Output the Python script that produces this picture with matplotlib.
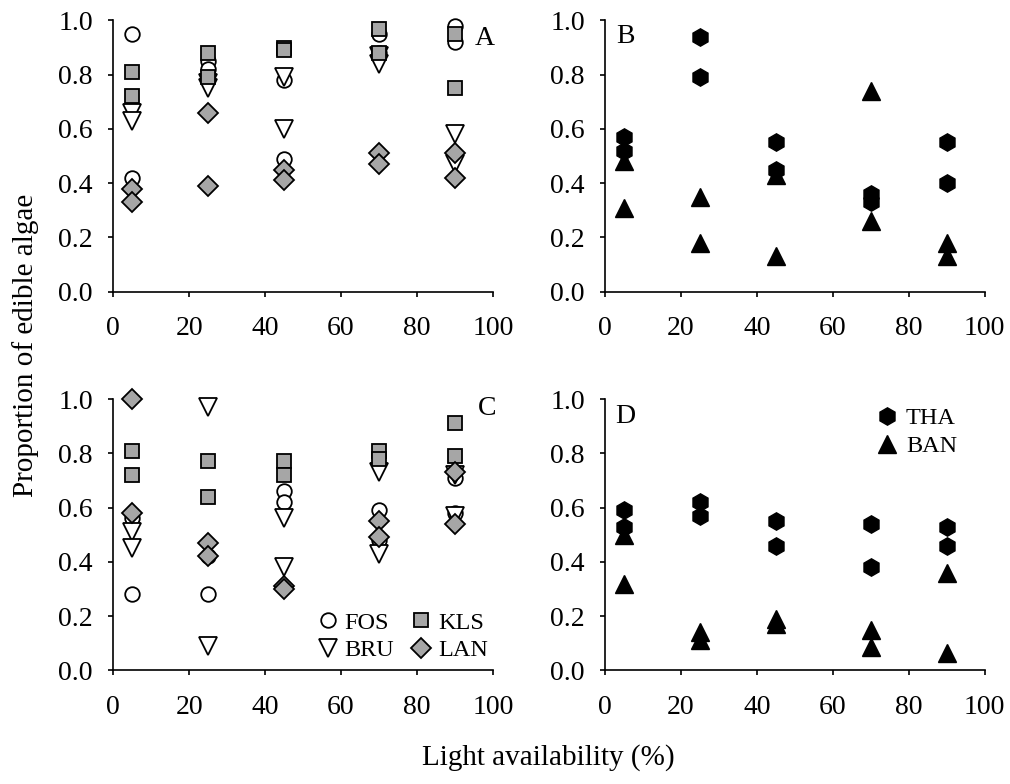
import matplotlib
matplotlib.use('Agg')
import matplotlib.pyplot as plt

plt.rcParams['font.family'] = ['Liberation Serif', 'DejaVu Serif']

light = [5, 5, 25, 25, 45, 45, 70, 70, 90, 90]

# panel A
fos_a = [0.95, 0.42, 0.85, 0.82, 0.78, 0.49, 0.95, 0.88, 0.98, 0.92]
bru_a = [0.66, 0.63, 0.77, 0.75, 0.79, 0.60, 0.87, 0.84, 0.58, 0.47]
kls_a = [0.81, 0.72, 0.88, 0.79, 0.90, 0.89, 0.97, 0.88, 0.95, 0.75]
lan_a = [0.38, 0.33, 0.66, 0.39, 0.45, 0.41, 0.51, 0.47, 0.51, 0.42]

# panel B
tha_b = [0.57, 0.52, 0.94, 0.79, 0.55, 0.45, 0.36, 0.33, 0.55, 0.40]
ban_b = [0.48, 0.31, 0.35, 0.18, 0.43, 0.13, 0.74, 0.26, 0.18, 0.13]

# panel C
fos_c = [0.56, 0.28, 0.28, 0.42, 0.66, 0.62, 0.59, 0.48, 0.71, 0.58]
bru_c = [0.51, 0.45, 0.97, 0.09, 0.56, 0.38, 0.73, 0.43, 0.57, 0.72]
kls_c = [0.81, 0.72, 0.77, 0.64, 0.77, 0.72, 0.81, 0.78, 0.91, 0.79]
lan_c = [1.00, 0.58, 0.47, 0.42, 0.31, 0.30, 0.55, 0.49, 0.73, 0.54]

# panel D
tha_d = [0.59, 0.53, 0.62, 0.57, 0.55, 0.46, 0.54, 0.38, 0.53, 0.46]
ban_d = [0.50, 0.32, 0.14, 0.11, 0.19, 0.17, 0.15, 0.085, 0.36, 0.065]

grey = '#a6a6a6'
fs = 20

fig = plt.figure(figsize=(10.1, 7.84), dpi=100)
axA = fig.add_axes([0.112, 0.628, 0.376, 0.346])
axB = fig.add_axes([0.599, 0.628, 0.376, 0.346])
axC = fig.add_axes([0.112, 0.145, 0.376, 0.346])
axD = fig.add_axes([0.599, 0.145, 0.376, 0.346])


def style(ax):
    ax.set_xlim(0, 100)
    ax.set_ylim(0, 1.0)
    ax.set_xticks([0, 20, 40, 60, 80, 100])
    ax.set_yticks([0, 0.2, 0.4, 0.6, 0.8, 1.0])
    ax.set_yticklabels(['%.1f' % v for v in ax.get_yticks()])
    ax.spines['top'].set_visible(False)
    ax.spines['right'].set_visible(False)
    ax.spines['left'].set_linewidth(1.2)
    ax.spines['bottom'].set_linewidth(1.2)
    ax.tick_params(axis='both', direction='out', length=3.5, width=1.2, labelsize=fs)
    ax.tick_params(axis='x', pad=14)
    ax.tick_params(axis='y', pad=11)


def lake_panel(ax, fos, bru, kls, lan):
    ax.plot(light, fos, 'o', ms=10.5, mfc='white', mec='black', mew=1.3, clip_on=False, label='FOS')
    ax.plot(light, bru, 'v', ms=12.5, mfc='white', mec='black', mew=1.3, clip_on=False, label='BRU')
    ax.plot(light, kls, 's', ms=10.5, mfc=grey, mec='black', mew=1.3, clip_on=False, label='KLS')
    ax.plot(light, lan, 'D', ms=10.5, mfc=grey, mec='black', mew=1.3, clip_on=False, label='LAN')
    style(ax)


def sea_panel(ax, tha, ban):
    ax.plot(light, tha, 'h', ms=12.5, color='black', clip_on=False, label='THA')
    ax.plot(light, ban, '^', ms=12.5, color='black', clip_on=False, label='BAN')
    style(ax)


lake_panel(axA, fos_a, bru_a, kls_a, lan_a)
sea_panel(axB, tha_b, ban_b)
lake_panel(axC, fos_c, bru_c, kls_c, lan_c)
sea_panel(axD, tha_d, ban_d)

axA.text(0.953, 0.934, 'A', transform=axA.transAxes, fontsize=fs, va='center', ha='left')
axB.text(0.03, 0.94, 'B', transform=axB.transAxes, fontsize=fs, va='center', ha='left')
axC.text(0.96, 0.967, 'C', transform=axC.transAxes, fontsize=fs, va='center', ha='left')
axD.text(0.026, 0.937, 'D', transform=axD.transAxes, fontsize=fs, va='center', ha='left')

axC.legend(ncol=2, loc='lower right', bbox_to_anchor=(1.025, -0.02), frameon=False,
           fontsize=17.5, handletextpad=0.1, columnspacing=0.5, labelspacing=0.22,
           handlelength=1.2, borderaxespad=0.2)
axD.legend(loc='upper right', bbox_to_anchor=(0.985, 1.05), frameon=False,
           fontsize=17.5, handletextpad=0.2, labelspacing=0.25, handlelength=1.2)

fig.text(0.025, 0.559, 'Proportion of edible algae', rotation=90, fontsize=21,
         va='center', ha='center')
fig.text(0.543, 0.034, 'Light availability (%)', fontsize=21, va='center', ha='center')

fig.savefig('out.png', dpi=100, facecolor='white')
